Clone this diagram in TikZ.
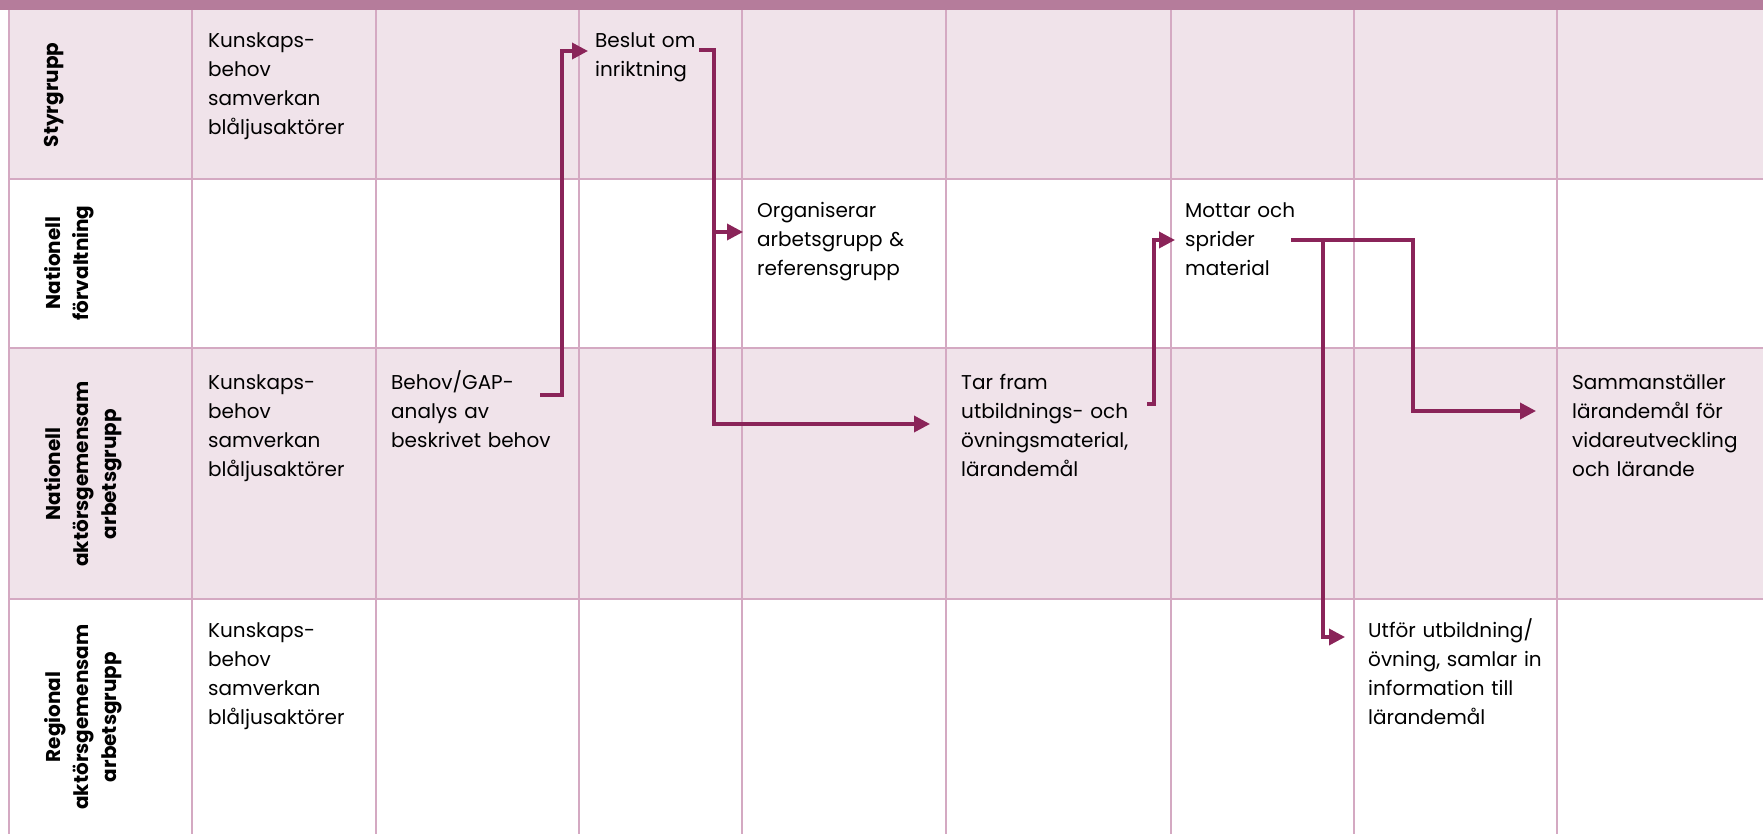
\documentclass[tikz,border=0pt]{standalone}
\usepackage{fontspec}
\setmainfont{Poppins}
\usetikzlibrary{arrows.meta}
\definecolor{laneHead}{HTML}{B57C9B}
\definecolor{laneFill}{HTML}{F0E3EA}
\definecolor{laneLine}{HTML}{D4A9C2}
\definecolor{flowLine}{HTML}{8A2459}
\NewDocumentCommand\LaneLabel{mmm}%
{%
\node[rotate=90,anchor=north,align=center,inner sep=0pt,font=\bfseries\fontsize{20}{28}\selectfont] (#1) at (44,#2) {#3};%
}
\NewDocumentCommand\StepText{mmmm}%
{%
\node[anchor=base west,text width=230pt,align=left,inner sep=0pt,font=\fontsize{20}{29}\selectfont] (#1) at (#2,#3) {#4};%
}

\begin{document}
\begin{tikzpicture}[x=1pt,y=-1pt,
  flow/.style={flowLine,line width=3.5pt,line join=miter,-{Triangle[length=16pt,width=16pt]}}]
\useasboundingbox (0,0) rectangle (1763,834);
\fill[laneFill] (9,10) rectangle (1763,179);
\fill[laneFill] (9,348) rectangle (1763,599);
\foreach \gx in {9,192,376,579,742,946,1171,1354,1557}
  \draw[laneLine,line width=2pt] (\gx,10) -- (\gx,834);
\foreach \gy in {179,348,599}
  \draw[laneLine,line width=2pt] (9,\gy) -- (1763,\gy);
\fill[laneHead] (0,0) rectangle (1763,10);
% lanes
\LaneLabel{styr}{95}{Styrgrupp}
\LaneLabel{forv}{263}{Nationell\\förvaltning}
\LaneLabel{natgrp}{474}{Nationell\\aktörsgemensam\\arbetsgrupp}
\LaneLabel{reggrp}{717}{Regional\\aktörsgemensam\\arbetsgrupp}
% steps
\StepText{kbStyr}{208}{48}{Kunskaps-\\behov\\samverkan\\blåljusaktörer}
\StepText{beslut}{595}{48}{Beslut om\\inriktning}
\StepText{organ}{757}{218}{Organiserar\\arbetsgrupp \&\\referensgrupp}
\StepText{mottar}{1185}{218}{Mottar och\\sprider\\material}
\StepText{kbNat}{208}{389}{Kunskaps-\\behov\\samverkan\\blåljusaktörer}
\StepText{gap}{391}{389}{Behov/GAP-\\analys av\\beskrivet behov}
\StepText{tarfram}{961}{389}{Tar fram\\utbildnings- och\\övningsmaterial,\\lärandemål}
\StepText{samman}{1572}{389}{Sammanställer\\lärandemål för\\vidareutveckling\\och lärande}
\StepText{kbReg}{208}{637}{Kunskaps-\\behov\\samverkan\\blåljusaktörer}
\StepText{utfor}{1368}{637}{Utför utbildning/\\övning, samlar in\\information till\\lärandemål}
% flow
\coordinate (gapOut) at (540,395);
\coordinate (beslutIn) at (588,51);
\coordinate (beslutOut) at (699,50);
\coordinate (organIn) at (743,232);
\coordinate (tarframIn) at (930,424);
\coordinate (tarframOut) at (1147,404);
\coordinate (mottarIn) at (1175,240);
\coordinate (mottarOut) at (1291,240);
\coordinate (sammanIn) at (1536,411);
\coordinate (utforIn) at (1345,637);
\draw[flow] (gapOut) -- ++(22,0) |- (beslutIn);
\draw[flow] (beslutOut) -- ++(15,0) |- (organIn);
\draw[flow] (beslutOut) -- ++(15,0) |- (tarframIn);
\draw[flow] (tarframOut) -- ++(7,0) |- (mottarIn);
\draw[flow] (mottarOut) -- ++(122,0) |- (sammanIn);
\draw[flow] (mottarOut) -- ++(32,0) |- (utforIn);
\end{tikzpicture}
\end{document}
